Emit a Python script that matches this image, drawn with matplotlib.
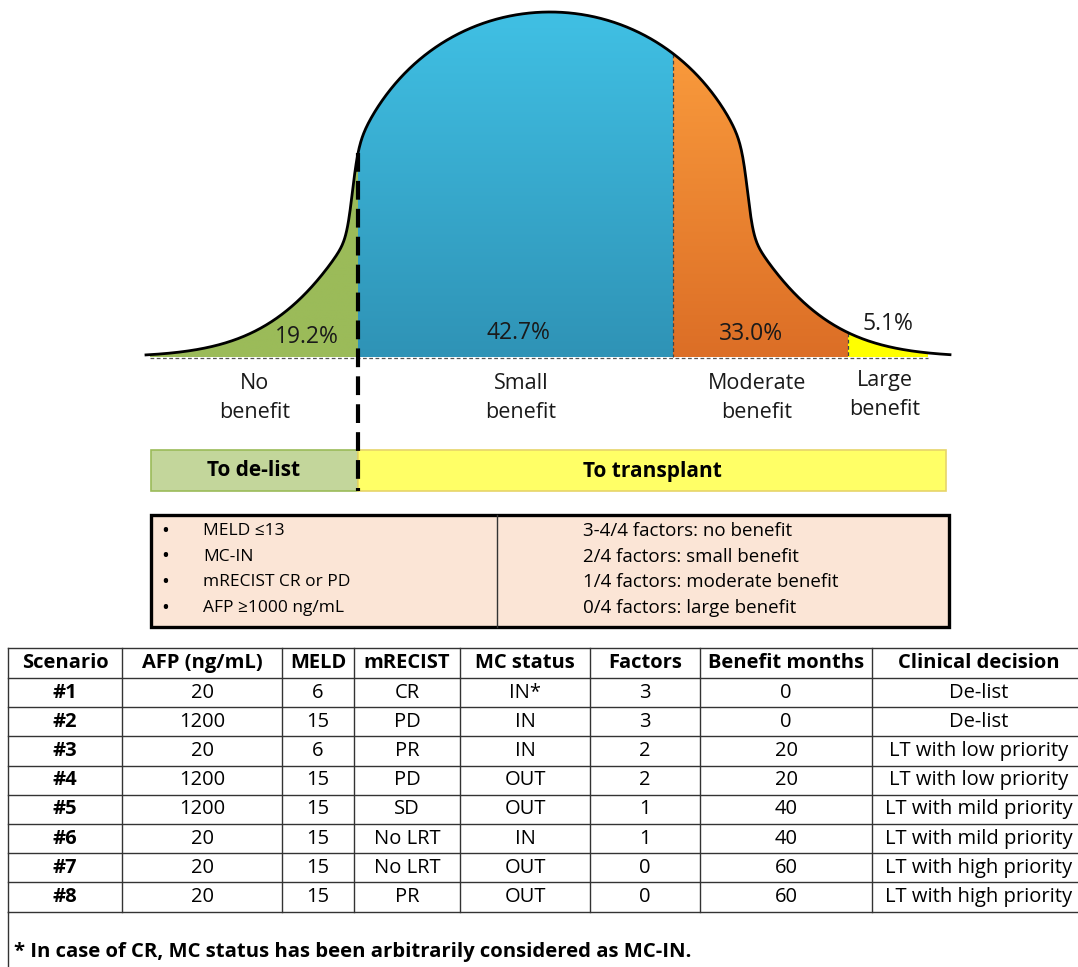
import numpy as np
import matplotlib
matplotlib.use("Agg")
import matplotlib.pyplot as plt
from matplotlib.patches import Rectangle, Polygon
from matplotlib.colors import LinearSegmentedColormap

plt.rcParams["font.family"] = ["Open Sans", "DejaVu Sans"]

# benefit groups under the curve
groups = ["No\nbenefit", "Small\nbenefit", "Moderate\nbenefit", "Large\nbenefit"]
shares = [19.2, 42.7, 33.0, 5.1]
group_edges = [150, 358, 673, 848, 928]
group_colors = [("#9BBB59", "#9BBB59"), ("#40C0E4", "#2F93B6"),
                ("#F99A3C", "#DC6E26"), ("#FFFF00", "#FFFF00")]

criteria = ["MELD \u226413", "MC-IN", "mRECIST CR or PD", "AFP \u22651000 ng/mL"]
factor_rules = ["3-4/4 factors: no benefit", "2/4 factors: small benefit",
                "1/4 factors: moderate benefit", "0/4 factors: large benefit"]

headers = ["Scenario", "AFP (ng/mL)", "MELD", "mRECIST", "MC status",
           "Factors", "Benefit months", "Clinical decision"]
scenario = ["#1", "#2", "#3", "#4", "#5", "#6", "#7", "#8"]
afp = [20, 1200, 20, 1200, 1200, 20, 20, 20]
meld = [6, 15, 6, 15, 15, 15, 15, 15]
mrecist = ["CR", "PD", "PR", "PD", "SD", "No LRT", "No LRT", "PR"]
mc_status = ["IN*", "IN", "IN", "OUT", "OUT", "IN", "OUT", "OUT"]
factors = [3, 3, 2, 2, 1, 1, 0, 0]
benefit_months = [0, 0, 20, 20, 40, 40, 60, 60]
decision = ["De-list", "De-list", "LT with low priority", "LT with low priority",
            "LT with mild priority", "LT with mild priority",
            "LT with high priority", "LT with high priority"]
footnote = "* In case of CR, MC status has been arbitrarily considered as MC-IN."

W, H = 1078, 967
fig = plt.figure(figsize=(W / 100, H / 100), dpi=100)
ax = fig.add_axes([0, 0, 1, 1])

# schematic bell outline (pixel units, y grows downwards)
CX, BASE = 550, 357


def bell(x):
    d = np.abs(x - CX)
    dome = 345 * np.clip(1 - (d / 222.0) ** 2, 0, None) ** 0.35
    tail = 458 * np.exp(-(d / 174.0) ** 2)
    step = 1 / (1 + np.exp((d - 198) / 3.0))
    return BASE - (step * dome + (1 - step) * tail)


for i in range(len(shares)):
    x0, x1 = group_edges[i], group_edges[i + 1]
    xs = np.linspace(x0, x1, 300)
    ys = bell(xs)
    verts = np.column_stack([np.r_[xs, x1, x0], np.r_[ys, BASE, BASE]])
    poly = Polygon(verts, closed=True, facecolor="none", edgecolor="none")
    ax.add_patch(poly)
    cmap = LinearSegmentedColormap.from_list(f"g{i}", list(group_colors[i]))
    grad = np.linspace(0, 1, 256)[:, None]
    im = ax.imshow(grad, cmap=cmap, extent=(x0, x1, BASE, ys.min()),
                   origin="upper", aspect="auto", zorder=1)
    im.set_clip_path(poly)

xs = np.linspace(146, 950, 1600)
ax.plot(xs, bell(xs), color="black", lw=2.0, zorder=4)
ax.plot([150, 928], [BASE + 1, BASE + 1], color="#555555", lw=0.9,
        ls=(0, (3, 2)), zorder=3)
for xe in group_edges[2:4]:
    ax.plot([xe, xe], [bell(xe), BASE], color="#444444", lw=0.9,
            ls=(0, (3, 2)), zorder=3)

# thick decision line
ax.plot([358, 358], [bell(358), 491], color="black", lw=3.0,
        ls=(0, (4.5, 2.2)), zorder=5)

pct_pos = [(307, 337), (518, 333), (751, 334), (888, 324)]
for (px, py), s in zip(pct_pos, shares):
    ax.text(px, py, f"{s:.1f}%", ha="center", va="center", fontsize=16.5,
            color="#1a1a1a", zorder=6)

lab_pos = [(255, 398), (521, 398), (757, 398), (885, 395)]
for (px, py), g in zip(lab_pos, groups):
    ax.text(px, py, g, ha="center", va="center", fontsize=15.5,
            linespacing=1.55, color="#1a1a1a")

# action bars
ax.add_patch(Rectangle((151, 450), 207, 41, facecolor="#C3D69B",
                       edgecolor="#9BBB59", lw=1.2))
ax.add_patch(Rectangle((358, 450), 588, 41, facecolor="#FFFF66",
                       edgecolor="#E6D46A", lw=1.2))
ax.text(254, 471, "To de-list", ha="center", va="center", fontsize=15,
        fontweight="bold")
ax.text(652, 471, "To transplant", ha="center", va="center", fontsize=15,
        fontweight="bold")

# criteria box
ax.add_patch(Rectangle((151, 515), 798, 112, facecolor="#FBE5D6",
                       edgecolor="black", lw=2.4))
ax.plot([497, 497], [515, 627], color="#333333", lw=1.0)
for k, (c, r) in enumerate(zip(criteria, factor_rules)):
    y = 531 + k * 25.7
    ax.text(161, y, "\u2022", ha="left", va="center", fontsize=15)
    ax.text(203, y, c, ha="left", va="center", fontsize=12.5)
    ax.text(583, y, r, ha="left", va="center", fontsize=13.5)

# scenario table
col_x = [8, 122, 282, 354, 460, 590, 700, 872, 1090]
row_y = [648, 678] + [678 + 29.2 * (k + 1) for k in range(len(scenario))]
columns = [scenario, afp, meld, mrecist, mc_status, factors,
           benefit_months, decision]

for yy in row_y:
    ax.plot([col_x[0], col_x[-1]], [yy, yy], color="#333333", lw=1.0)
for xx in col_x[:-1]:
    ax.plot([xx, xx], [row_y[0], row_y[-1]], color="#333333", lw=1.0)
ax.plot([col_x[0], col_x[0]], [row_y[-1], H + 5], color="#333333", lw=1.0)

for j, h in enumerate(headers):
    cx = (col_x[j] + col_x[j + 1]) / 2 if j < len(headers) - 1 else 979
    ax.text(cx, (row_y[0] + row_y[1]) / 2, h, ha="center", va="center",
            fontsize=14.5, fontweight="bold")
    for i, v in enumerate(columns[j]):
        cy = (row_y[i + 1] + row_y[i + 2]) / 2
        ax.text(cx, cy, str(v), ha="center", va="center", fontsize=14.5,
                fontweight="bold" if j == 0 else "normal")

ax.text(14, 952, footnote, ha="left", va="center", fontsize=14.6,
        fontweight="bold")

ax.set_xlim(0, W)
ax.set_ylim(H, 0)
ax.axis("off")
fig.savefig("out.png", dpi=100)
